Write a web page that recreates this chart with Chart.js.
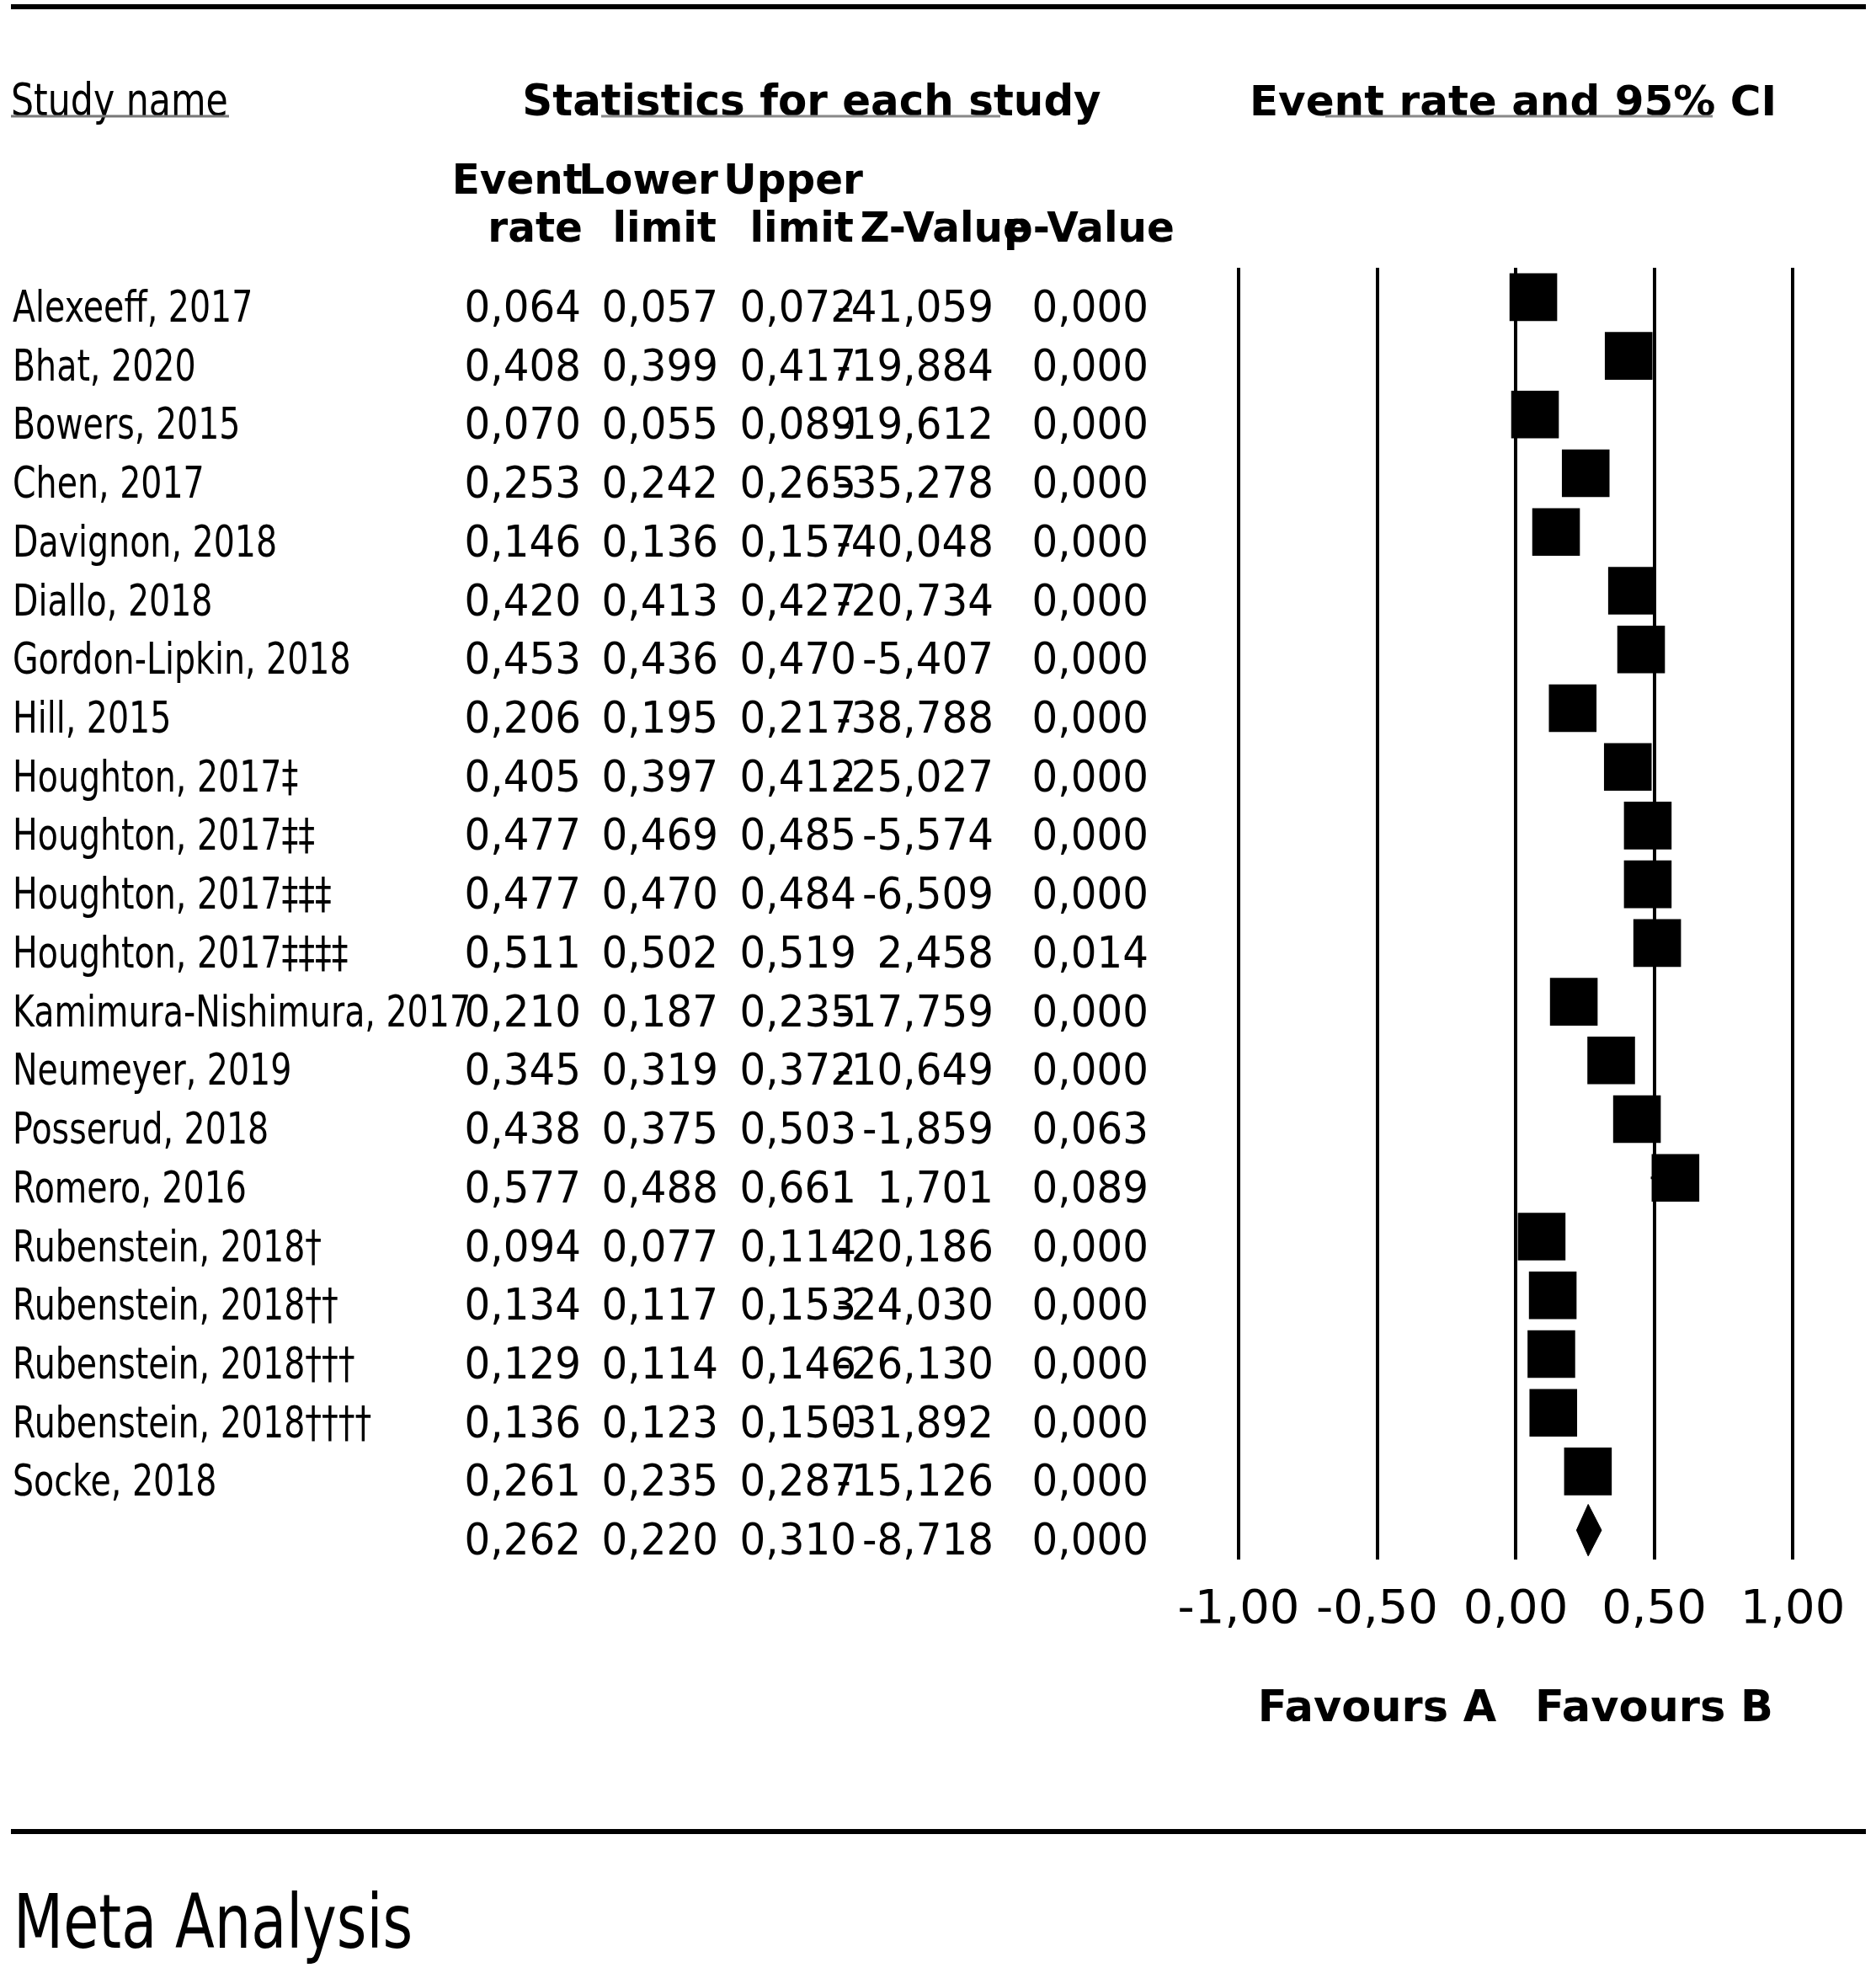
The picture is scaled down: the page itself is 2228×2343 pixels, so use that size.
<!DOCTYPE html>
<html>
<head>
<meta charset="utf-8">
<title>Meta Analysis</title>
<script src="https://cdn.jsdelivr.net/npm/chart.js@4.4.1/dist/chart.umd.min.js"></script>
<style>
  html, body { margin: 0; padding: 0; background: #fff; }
  #wrap { position: relative; width: 2228px; height: 2343px; }
</style>
</head>
<body>
<div id="wrap"><canvas id="chart"></canvas></div>
<script>
const studyNames = [
  "Alexeeff, 2017", "Bhat, 2020", "Bowers, 2015", "Chen, 2017", "Davignon, 2018",
  "Diallo, 2018", "Gordon-Lipkin, 2018", "Hill, 2015", "Houghton, 2017‡",
  "Houghton, 2017‡‡", "Houghton, 2017‡‡‡", "Houghton, 2017‡‡‡‡",
  "Kamimura-Nishimura, 2017", "Neumeyer, 2019", "Posserud, 2018", "Romero, 2016",
  "Rubenstein, 2018†", "Rubenstein, 2018††", "Rubenstein, 2018†††",
  "Rubenstein, 2018††††", "Socke, 2018"
];
const eventRates = [0.064, 0.408, 0.070, 0.253, 0.146, 0.420, 0.453, 0.206, 0.405, 0.477, 0.477,
  0.511, 0.210, 0.345, 0.438, 0.577, 0.094, 0.134, 0.129, 0.136, 0.261];
const lowerLimits = [0.057, 0.399, 0.055, 0.242, 0.136, 0.413, 0.436, 0.195, 0.397, 0.469, 0.470,
  0.502, 0.187, 0.319, 0.375, 0.488, 0.077, 0.117, 0.114, 0.123, 0.235];
const upperLimits = [0.072, 0.417, 0.089, 0.265, 0.157, 0.427, 0.470, 0.217, 0.412, 0.485, 0.484,
  0.519, 0.235, 0.372, 0.503, 0.661, 0.114, 0.153, 0.146, 0.150, 0.287];
const zValues = [-41.059, -19.884, -19.612, -35.278, -40.048, -20.734, -5.407, -38.788, -25.027,
  -5.574, -6.509, 2.458, -17.759, -10.649, -1.859, 1.701, -20.186, -24.030, -26.130, -31.892, -15.126];
const pValues = [0.000, 0.000, 0.000, 0.000, 0.000, 0.000, 0.000, 0.000, 0.000, 0.000, 0.000,
  0.014, 0.000, 0.000, 0.063, 0.089, 0.000, 0.000, 0.000, 0.000, 0.000];

// pooled result
const summary = { rate: 0.262, lower: 0.220, upper: 0.310, z: -8.718, p: 0.000 };

const xTicks = [-1, -0.5, 0, 0.5, 1];
const sideLabels = ["Favours A", "Favours B"];

const summaryRow = studyNames.length;
const fmt3 = (v) => v.toFixed(3).replace(".", ",");
const fmt2 = (v) => v.toFixed(2).replace(".", ",");

const squares = eventRates.map((r, i) => ({ x: r, y: i }));
const ciPoints = [];
for (let i = 0; i < eventRates.length; i++) {
  ciPoints.push({ x: lowerLimits[i], y: i }, { x: upperLimits[i], y: i }, { x: null, y: null });
}
const diamond = [
  { x: summary.lower, y: summaryRow },
  { x: summary.rate, y: summaryRow - 0.44 },
  { x: summary.upper, y: summaryRow },
  { x: summary.rate, y: summaryRow + 0.44 },
  { x: summary.lower, y: summaryRow },
];

function txt(ctx, s, x, y, font, align, sx) {
  ctx.save();
  ctx.font = font;
  ctx.textAlign = align;
  ctx.textBaseline = "alphabetic";
  ctx.translate(x, y);
  ctx.scale(sx, 1);
  ctx.fillText(s, 0, 0);
  ctx.restore();
}

function rule(ctx, x1, x2, y, w, color) {
  ctx.save();
  ctx.strokeStyle = color;
  ctx.lineWidth = w;
  ctx.beginPath();
  ctx.moveTo(x1, y);
  ctx.lineTo(x2, y);
  ctx.stroke();
  ctx.restore();
}

const tablePlugin = {
  id: "table",
  afterDraw(chart) {
    const ctx = chart.ctx;
    const y = chart.scales.y;
    const x = chart.scales.x;
    ctx.fillStyle = "#000";

    const nameFont = "52px 'DejaVu Sans'";
    const numFont = "52px 'DejaVu Sans'";
    const headFont = "bold 50px 'DejaVu Sans'";
    const colRight = [690, 853, 1017, 1180, 1364];

    // rules
    rule(ctx, 13, 2216, 8, 6, "#000");
    rule(ctx, 13, 2216, 2175, 6, "#000");

    // headings
    txt(ctx, "Study name", 13, 137, "54px 'DejaVu Sans'", "left", 0.79);
    rule(ctx, 13, 272, 138, 3, "#777");
    txt(ctx, "Statistics for each study", 964, 137, "bold 52px 'DejaVu Sans'", "center", 0.96);
    rule(ctx, 714, 1188, 138, 3, "#888");
    txt(ctx, "Event rate and 95% CI", 1797, 137, "bold 50px 'DejaVu Sans'", "center", 1);
    rule(ctx, 1574, 2034, 138, 3, "#888");

    txt(ctx, "Event", 692, 230, headFont, "right", 0.97);
    txt(ctx, "Lower", 853, 230, headFont, "right", 0.97);
    txt(ctx, "Upper", 1025, 230, headFont, "right", 0.97);
    txt(ctx, "rate", 692, 287, headFont, "right", 0.97);
    txt(ctx, "limit", 851, 287, headFont, "right", 0.97);
    txt(ctx, "limit", 1014, 287, headFont, "right", 0.97);
    txt(ctx, "Z-Value", 1224, 287, headFont, "right", 0.97);
    txt(ctx, "p-Value", 1395, 287, headFont, "right", 0.97);

    // study rows
    for (let i = 0; i < studyNames.length; i++) {
      const by = y.getPixelForValue(i) + 29;
      txt(ctx, studyNames[i], 15, by, nameFont, "left", 0.76);
      const cells = [eventRates[i], lowerLimits[i], upperLimits[i], zValues[i], pValues[i]];
      cells.forEach((v, c) => txt(ctx, fmt3(v), colRight[c], by, numFont, "right", 0.93));
    }
    const sy = y.getPixelForValue(summaryRow) + 29;
    [summary.rate, summary.lower, summary.upper, summary.z, summary.p].forEach((v, c) =>
      txt(ctx, fmt3(v), colRight[c], sy, numFont, "right", 0.93));

    // favours labels under the axis
    txt(ctx, sideLabels[0], x.getPixelForValue(-0.5), 2044, "bold 51px 'DejaVu Sans'", "center", 1);
    txt(ctx, sideLabels[1], x.getPixelForValue(0.5), 2044, "bold 51px 'DejaVu Sans'", "center", 1);

    txt(ctx, "Meta Analysis", 16, 2313, "89px 'DejaVu Sans'", "left", 0.77);
  },
};

new Chart(document.getElementById("chart"), {
  type: "scatter",
  data: {
    datasets: [
      {
        label: "CI",
        type: "line",
        data: ciPoints,
        borderColor: "#000",
        borderWidth: 3,
        pointRadius: 0,
        spanGaps: false,
      },
      {
        label: "Event rate",
        data: squares,
        pointStyle: "rect",
        pointRadius: 40,
        backgroundColor: "#000",
        borderWidth: 0,
      },
      {
        label: "Summary",
        type: "line",
        data: diamond,
        borderColor: "#000",
        borderWidth: 1,
        backgroundColor: "#000",
        fill: "shape",
        pointRadius: 0,
        tension: 0,
      },
    ],
  },
  options: {
    responsive: true,
    maintainAspectRatio: false,
    devicePixelRatio: 1,
    animation: false,
    layout: { padding: { left: 1471, right: 99, top: 318, bottom: 371 } },
    plugins: { legend: { display: false }, tooltip: { enabled: false } },
    scales: {
      x: {
        type: "linear",
        min: xTicks[0],
        max: xTicks[xTicks.length - 1],
        afterBuildTicks: (scale) => { scale.ticks = xTicks.map((v) => ({ value: v })); },
        afterFit: (scale) => { scale.height = 120; scale.paddingLeft = 0; scale.paddingRight = 0; },
        ticks: {
          callback: (v) => fmt2(v),
          color: "#000",
          padding: 27,
          maxRotation: 0,
          font: { family: "'DejaVu Sans'", size: 56 },
        },
        grid: { color: "#000", lineWidth: 4, drawTicks: false },
        border: { display: false },
      },
      y: {
        type: "linear",
        min: -0.5,
        max: summaryRow + 0.5,
        reverse: true,
        display: false,
      },
    },
  },
  plugins: [tablePlugin],
});
</script>
</body>
</html>
